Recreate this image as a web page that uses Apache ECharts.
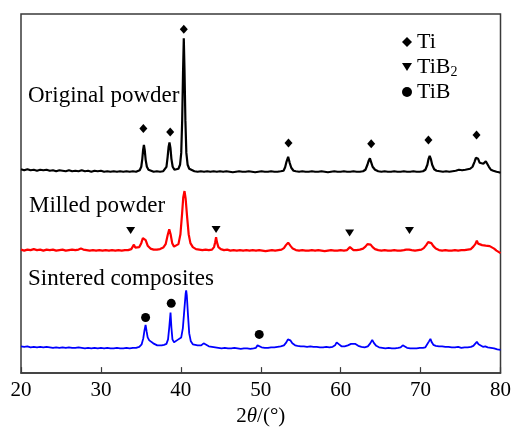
<!DOCTYPE html>
<html>
<head>
<meta charset="utf-8">
<script src="https://cdn.jsdelivr.net/npm/echarts@6/dist/echarts.min.js"></script>
<style>
  html, body { margin: 0; padding: 0; background: #fff; }
  #chart { width: 514px; height: 432px; }
</style>
</head>
<body>
<div id="chart"></div>
<script>
// 2θ axis ticks
const twoThetaTicks = [20, 30, 40, 50, 60, 70, 80];

// Diffraction patterns: [2θ (°), intensity (offset, a.u.)]
const originalPowder = [
  [20.0,205.5],[20.4,204.5],[20.8,205.5],[21.2,204.5],[21.6,205],[22.0,204],[22.4,205],[22.8,204.5],[23.2,205],[23.6,204],
  [24.0,204.5],[24.4,203.5],[24.8,204.5],[25.2,204],[25.6,203.5],[26.0,204.5],[26.4,203.5],[26.8,204],[27.2,203.5],[27.6,204.5],
  [28.0,203.5],[28.4,204],[28.8,203],[29.2,204],[29.6,203.5],[30.0,204],[30.4,203],[30.8,203.5],[31.2,203],[31.6,203.5],
  [32.0,203],[32.4,203.5],[32.8,203],[33.2,203.5],[33.6,203],[34.0,203.5],[34.4,203],[34.85,204.5],[35.05,208],[35.18,216],
  [35.28,225],[35.38,230],[35.48,225],[35.6,215],[35.75,208],[35.95,205],[36.2,203.5],[36.6,203],[37.0,203.5],[37.4,203],
  [37.8,203.5],[38.0,204.5],[38.2,208],[38.35,218],[38.47,228],[38.58,232.5],[38.7,227],[38.82,216],[38.98,208],[39.2,205],
  [39.45,204.5],[39.7,206],[39.9,210],[40.05,222],[40.17,255],[40.28,305],[40.37,337.5],[40.46,305],[40.57,255],[40.69,222],
  [40.85,210],[41.05,206],[41.3,204],[41.7,203.5],[42.1,203],[42.5,203.5],[42.9,203],[43.3,203.5],[43.7,203],[44.1,203.5],[44.5,203],
  [44.9,203.5],[45.3,203],[45.7,203.5],[46.1,203],[46.5,202.5],[46.9,203],[47.3,203.5],[47.7,203],[48.1,203],[48.5,203.5],
  [48.9,203],[49.3,202.5],[49.7,203],[50.1,203.5],[50.5,203],[50.9,203],[51.3,203.5],[51.7,203],[52.1,203],[52.5,203.5],
  [52.85,204],[53.05,207.5],[53.22,213],[53.43,218],[53.62,212],[53.82,207],[54.1,204],[54.4,203.5],[54.8,203],[55.2,203.5],
  [55.6,203],[56.0,203],[56.4,203.5],[56.8,203],[57.2,203],[57.6,203.5],[58.0,203],[58.4,202.5],[58.8,203],[59.2,203.5],
  [59.6,203],[60.0,203],[60.4,203.5],[60.8,203],[61.2,203],[61.6,203.5],[62.0,203],[62.4,203],[62.8,203.5],[63.1,205],
  [63.35,210],[63.5,214],[63.66,216.5],[63.8,213],[64.0,208],[64.3,205],[64.7,203.5],[65.1,203],[65.5,203.5],[65.9,203],
  [66.3,203],[66.7,203.5],[67.1,203],[67.5,203],[67.9,203.5],[68.3,203],[68.7,203],[69.1,203.5],[69.5,203],[69.9,203],
  [70.3,203.5],[70.6,205],[70.85,210],[71.0,216],[71.14,219],[71.28,216],[71.45,210],[71.7,205.5],[72.0,204],[72.4,203.5],
  [72.8,203],[73.2,203.5],[73.6,203],[74.0,203.5],[74.4,204],[74.8,205],[75.2,204.5],[75.6,205],[75.9,205.5],[76.2,206],
  [76.5,208],[76.75,213],[76.92,217],[77.04,219],[77.2,216],[77.4,212],[77.65,210],[77.85,211],[78.05,213],[78.16,213.5],
  [78.3,212],[78.55,208],[78.8,205],[79.1,204],[79.5,203],[79.8,202.5],[80.0,202]
];

const milledPowder = [
  [20.0,124.5],[20.4,123.5],[20.8,124.5],[21.2,124],[21.6,125],[22.0,124],[22.4,124.5],[22.8,123.5],[23.2,124.5],[23.6,124],
  [24.0,124.5],[24.4,123.5],[24.8,124],[25.2,124.5],[25.6,123.5],[26.0,124],[26.4,124.5],[26.8,124],[27.2,124.5],[27.5,125.5],
  [27.8,124.5],[28.2,124],[28.6,123.5],[29.0,124],[29.4,123.5],[29.8,124],[30.2,123.5],[30.6,124],[31.0,123.5],[31.4,124],
  [31.8,123.5],[32.2,124],[32.6,123.5],[33.0,124],[33.4,124],[33.8,125],[34.0,127],[34.13,129.5],[34.3,126.5],[34.5,125.5],
  [34.8,127],[35.05,131],[35.25,136],[35.4,137.5],[35.6,134],[35.85,128.5],[36.2,125.5],[36.6,124.5],[37.0,124.5],[37.4,125],
  [37.8,126.5],[38.1,130],[38.35,139],[38.55,145],[38.72,140],[38.92,131],[39.15,127.5],[39.4,127],[39.7,130],[39.95,140],
  [40.15,160],[40.3,177],[40.46,183.5],[40.6,176],[40.78,158],[40.98,140],[41.2,131],[41.5,127],[41.9,125],[42.3,124.5],
  [42.7,124],[43.1,124.5],[43.5,124],[43.9,124.5],[44.15,127],[44.3,132],[44.41,137],[44.52,132],[44.7,127],[45.0,125],
  [45.4,124],[45.8,124.5],[46.2,123.5],[46.6,124],[47.0,123.5],[47.4,124],[47.8,123.5],[48.2,124],[48.6,123.5],[49.0,124],
  [49.4,123.5],[49.8,124],[50.2,123.5],[50.6,123],[51.0,123.5],[51.4,124],[51.8,123.5],[52.2,124],[52.6,124.5],[52.9,126],
  [53.15,129],[53.43,131.5],[53.7,128.5],[54.0,125.5],[54.4,124],[54.8,123.5],[55.2,124],[55.6,123.5],[56.0,123.5],[56.4,124],
  [56.8,123.5],[57.2,124],[57.6,123.5],[58.0,123],[58.4,123.5],[58.8,124],[59.2,123.5],[59.6,123.5],[60.0,124],[60.4,123.5],
  [60.8,124],[61.0,125],[61.16,127],[61.32,125],[61.6,124],[62.0,124],[62.4,124.5],[62.8,125.5],[63.1,127.5],[63.35,130],
  [63.53,131.5],[63.75,129.5],[64.0,127],[64.3,125],[64.7,124],[65.1,123.5],[65.5,124],[65.9,123.5],[66.3,123.5],[66.7,124],
  [67.1,123.5],[67.5,123.5],[67.9,124],[68.2,124.5],[68.4,126.5],[68.56,124.5],[68.9,124],[69.3,123.5],[69.7,124],[70.1,124.5],
  [70.4,126],[70.7,129],[70.95,132],[71.14,133],[71.35,131],[71.6,128],[71.9,125.5],[72.3,124],[72.7,123.5],[73.1,124],
  [73.5,123.5],[73.9,123.5],[74.3,124],[74.7,123.5],[75.1,124],[75.5,124],[75.9,124.5],[76.3,125],[76.6,127.5],[76.85,130],
  [77.04,133.5],[77.2,130.5],[77.45,130],[77.7,129],[77.95,130],[78.15,128.5],[78.4,129],[78.65,128],[78.9,127],[79.2,125.5],
  [79.5,123.5],[79.8,122],[80.0,121]
];

const sinteredComposites = [
  [20.0,27],[20.4,26.5],[20.8,27],[21.2,26],[21.6,26.5],[22.0,26],[22.4,26.5],[22.8,26],[23.2,26.5],[23.6,26],
  [24.0,25.5],[24.4,26],[24.8,25.5],[25.2,26],[25.6,25.5],[26.0,26],[26.4,25.5],[26.8,25.5],[27.2,26],[27.6,25.5],
  [28.0,25],[28.4,25.5],[28.8,25],[29.2,25.5],[29.6,25],[30.0,25.5],[30.4,25],[30.8,25.5],[31.2,25],[31.6,25],
  [32.0,25.5],[32.4,25],[32.8,25],[33.2,25.5],[33.6,25],[34.0,25.5],[34.4,25.5],[34.8,26.5],[35.1,29],[35.3,35],
  [35.45,43],[35.59,48.5],[35.72,42],[35.85,36],[36.05,33],[36.3,31],[36.55,30],[36.8,29.5],[37.05,28],[37.3,27.5],
  [37.6,28],[37.9,28.5],[38.2,29.5],[38.4,34],[38.55,46],[38.71,61],[38.82,46],[38.95,34],[39.15,31],[39.4,32],
  [39.6,33.5],[39.85,34],[40.05,36],[40.25,45],[40.45,65],[40.6,80],[40.67,83.5],[40.75,78],[40.9,58],[41.05,40],
  [41.25,32],[41.5,29],[41.8,28.5],[42.1,28],[42.35,29.5],[42.55,28],[42.85,30],[43.1,28],[43.5,27],[43.9,26.5],
  [44.3,26],[44.7,25.5],[45.1,25],[45.5,25.5],[45.9,25],[46.3,25],[46.7,25.5],[47.1,25],[47.5,24.5],[47.9,25],
  [48.3,25],[48.7,24.5],[49.1,25],[49.4,25.5],[49.6,28],[49.72,30],[49.85,27.5],[50.1,26],[50.5,25.5],[50.9,25.5],
  [51.3,26],[51.7,26],[52.1,26.5],[52.5,27],[52.9,28],[53.2,31],[53.4,34],[53.55,35.5],[53.7,33],[53.95,30],
  [54.3,28],[54.6,27.5],[55.0,27],[55.4,27],[55.8,26.5],[56.2,27],[56.6,26.5],[57.0,26.5],[57.4,26],[57.8,26],
  [58.2,26.5],[58.6,26],[59.0,26.5],[59.3,28],[59.5,31],[59.62,32],[59.8,29],[60.1,27],[60.5,27],[60.9,28],
  [61.3,29.5],[61.55,30.5],[61.8,29.5],[62.2,27.5],[62.6,26.5],[63.0,26],[63.4,27],[63.7,30],[63.95,33.5],[64.15,30.5],
  [64.45,27.5],[64.8,26],[65.2,25.5],[65.6,25],[66.0,25.5],[66.4,25],[66.8,25],[67.2,25.5],[67.5,26],[67.77,28],
  [68.0,26.5],[68.3,25.5],[68.7,25],[69.1,25],[69.5,25],[69.9,25.5],[70.3,25.5],[70.6,26],[70.85,28],[71.05,32],
  [71.23,34.5],[71.4,31],[71.6,28.5],[71.9,27.5],[72.3,27],[72.7,27],[73.1,26.5],[73.5,26.5],[73.9,26],[74.3,26],
  [74.7,26.5],[75.1,25.5],[75.5,26],[75.9,26],[76.3,26.5],[76.6,27.5],[76.85,29.5],[77.04,31.5],[77.25,29],[77.5,27],
  [77.8,26.5],[78.1,27],[78.4,26],[78.8,25.5],[79.2,25],[79.6,24],[80.0,23.5]
];

// Phase identification markers: [2θ (°), intensity]
const tiPeaks = [[35.31,246.5],[38.67,243],[40.37,346.7],[53.47,232],[63.82,231.3],[70.98,235],[77.0,240]];
const tib2Peaks = [[33.72,143.7],[44.41,144.7],[61.12,141.3],[68.61,143.7]];
const tibPeaks = [[35.59,56],[38.80,70.3],[49.81,39]];

const phaseNames = ['Ti', 'TiB2', 'TiB'];
const patternLabels = ['Original powder', 'Milled powder', 'Sintered composites'];

const serif = '"Liberation Serif", "Times New Roman", Times, serif';
const frame = '#3a3a3a';

const chart = echarts.init(document.getElementById('chart'), null, { renderer: 'canvas' });

const lineSeries = (data, color, width) => ({
  type: 'line',
  data: data,
  showSymbol: false,
  symbol: 'none',
  silent: true,
  lineStyle: { color: color, width: width },
  z: 2
});

const markerSeries = (name, data, symbol, size) => ({
  name: name,
  type: 'scatter',
  data: data,
  symbol: symbol,
  symbolSize: size,
  itemStyle: { color: '#000', opacity: 1 },
  silent: true,
  z: 3
});

chart.setOption({
  animation: false,
  backgroundColor: '#fff',
  grid: { left: 21, right: 12, top: 14, bottom: 56, show: true, borderColor: frame, borderWidth: 1.5 },
  xAxis: {
    type: 'value',
    min: twoThetaTicks[0],
    max: twoThetaTicks[twoThetaTicks.length - 1],
    interval: 10,
    name: '2{i|θ}/(°)',
    nameLocation: 'middle',
    nameGap: 31,
    nameTextStyle: {
      fontFamily: serif, fontSize: 21, color: '#000',
      rich: { i: { fontFamily: serif, fontSize: 21, fontStyle: 'italic', color: '#000' } }
    },
    axisLine: { show: true, lineStyle: { color: frame, width: 1.5 } },
    axisTick: { show: true, inside: true, length: 6, lineStyle: { color: frame, width: 1.2 } },
    axisLabel: { fontFamily: serif, fontSize: 21, color: '#000', margin: 7 },
    splitLine: { show: false }
  },
  yAxis: {
    type: 'value',
    min: 0,
    max: 362,
    show: true,
    axisLine: { show: false },
    axisTick: { show: false },
    axisLabel: { show: false },
    splitLine: { show: false }
  },
  legend: {
    data: phaseNames,
    orient: 'vertical',
    left: 397,
    top: 26,
    itemWidth: 10,
    itemHeight: 10,
    itemGap: 2,
    selectedMode: false,
    textStyle: {
      fontFamily: serif, fontSize: 22, color: '#000', lineHeight: 22,
      rich: { sub: { fontFamily: serif, fontSize: 14, color: '#000', lineHeight: 22, padding: [10, 0, 0, 0] } }
    },
    formatter: name => name === 'TiB2' ? 'TiB{sub|2}' : name
  },
  graphic: [
    { type: 'text', left: 28, top: 84, style: { text: patternLabels[0], font: '23px ' + serif, fill: '#000' } },
    { type: 'text', left: 29, top: 194, style: { text: patternLabels[1], font: '23px ' + serif, fill: '#000' } },
    { type: 'text', left: 28, top: 267, style: { text: patternLabels[2], font: '23px ' + serif, fill: '#000' } }
  ],
  series: [
    lineSeries(originalPowder, '#000000', 2.2),
    lineSeries(milledPowder, '#ff0000', 2.2),
    lineSeries(sinteredComposites, '#0000ff', 1.8),
    markerSeries(phaseNames[0], tiPeaks, 'diamond', [8, 9]),
    markerSeries(phaseNames[1], tib2Peaks, 'path://M0,0 L10,0 L5,8 Z', [9, 7]),
    markerSeries(phaseNames[2], tibPeaks, 'circle', 9)
  ]
});
</script>
</body>
</html>
